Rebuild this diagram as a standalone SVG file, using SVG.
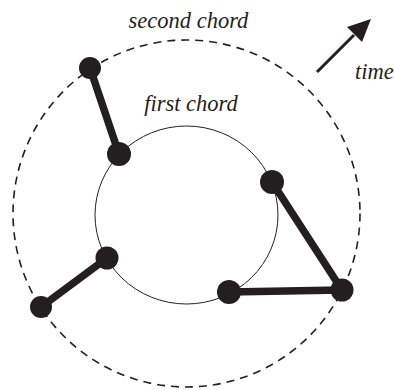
<svg xmlns="http://www.w3.org/2000/svg" width="394" height="390" viewBox="0 0 394 390">
<defs>
<style>
text{font-family:'Liberation Serif','Times New Roman','DejaVu Serif',serif;font-style:italic;font-size:22.5px;fill:#231f20}
.edge{stroke:#231f20;stroke-width:7.5;stroke-linecap:round;fill:none}
.node{fill:#231f20}
</style>
</defs>
<rect width="394" height="390" fill="#fff"/>
<g id="chords">
<circle id="second-chord" cx="186.5" cy="213.5" r="173.5" fill="none" stroke="#231f20" stroke-width="1.6" stroke-dasharray="8,6"/>
<ellipse id="first-chord" cx="186.5" cy="215" rx="91.5" ry="89" fill="none" stroke="#231f20" stroke-width="1"/>
</g>
<g id="connectors">
<line class="edge" x1="90" y1="68" x2="119" y2="154"/>
<line class="edge" x1="41" y1="307" x2="107" y2="258"/>
<line class="edge" x1="272" y1="182" x2="342" y2="290"/>
<line class="edge" x1="229" y1="292" x2="342" y2="290"/>
<line stroke="#231f20" stroke-width="3" x1="317" y1="72" x2="354" y2="35"/>
<polygon points="371,19 362,42 347,27" fill="#231f20"/>
</g>
<g id="n1"><circle class="node" cx="90" cy="68" r="11"/></g>
<g id="n2"><circle class="node" cx="119" cy="154" r="12"/></g>
<g id="n3"><circle class="node" cx="272" cy="182" r="12"/></g>
<g id="n4"><circle class="node" cx="107" cy="258" r="11.5"/></g>
<g id="n5"><circle class="node" cx="41" cy="307" r="11"/></g>
<g id="n6"><circle class="node" cx="229" cy="292" r="12"/></g>
<g id="n7"><circle class="node" cx="342" cy="290" r="11.5"/></g>
<g id="labels">
<text x="188.5" y="28" text-anchor="middle">second chord</text>
<text x="191" y="111" text-anchor="middle">first chord</text>
<text x="355" y="79">time</text>
</g>
</svg>
